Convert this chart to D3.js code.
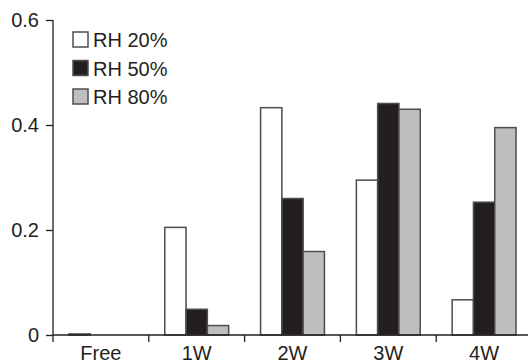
<!DOCTYPE html>
<meta charset="utf-8">
<script src="https://d3js.org/d3.v7.min.js"></script>
<style>
  body { margin: 0; background: #fff; }
  text { font-family: "Liberation Sans", Arial, Helvetica, sans-serif; fill: #231f20; }
</style>
<body>
<div id="chart"></div>
<script>
// categories and series
var categories = ["Free", "1W", "2W", "3W", "4W"];
var series = ["RH 20%", "RH 50%", "RH 80%"];
var rh20 = [0.002, 0.205, 0.433, 0.295, 0.067];
var rh50 = [0, 0.049, 0.260, 0.441, 0.253];
var rh80 = [0, 0.018, 0.159, 0.430, 0.395];
var yTicks = [0, 0.2, 0.4, 0.6];

var values = [rh20, rh50, rh80];
var colors = ["#ffffff", "#231f20", "#bcbec0"];

var width = 528, height = 363;
var margin = { top: 20, left: 53, bottom: 335 };

var svg = d3.select("#chart").append("svg")
    .attr("width", width)
    .attr("height", height);

var x = d3.scaleBand()
    .domain(categories)
    .range([margin.left, 532])
    .padding(0);

var xInner = d3.scaleBand()
    .domain(series)
    .range([x.bandwidth() / 6, x.bandwidth() * 5 / 6]);

var y = d3.scaleLinear()
    .domain([0, 0.6])
    .range([margin.bottom, margin.top]);

// bars
series.forEach(function(s, si) {
  categories.forEach(function(c, ci) {
    var v = values[si][ci];
    if (v <= 0) return;
    svg.append("rect")
      .attr("x", x(c) + xInner(s))
      .attr("y", y(v))
      .attr("width", xInner.bandwidth())
      .attr("height", y(0) - y(v))
      .attr("fill", colors[si])
      .attr("stroke", "#4d4d4f")
      .attr("stroke-width", 1.5);
  });
});

// y axis
var yAxis = svg.append("g")
    .attr("transform", "translate(" + margin.left + ",0)")
    .call(d3.axisLeft(y).tickValues(yTicks).tickFormat(function(d) { return d === 0 ? "0" : d3.format(".1f")(d); })
      .tickSize(7).tickPadding(7));
yAxis.select(".domain").remove();
yAxis.selectAll("line").attr("stroke", "#231f20").attr("stroke-width", 1.3);
yAxis.selectAll("text").style("font-size", "20px").attr("fill", "#231f20");

svg.append("line")
    .attr("x1", margin.left).attr("x2", margin.left)
    .attr("y1", margin.top).attr("y2", margin.bottom + 7)
    .attr("stroke", "#231f20").attr("stroke-width", 1.3);

// x axis
svg.append("line")
    .attr("x1", margin.left).attr("x2", width)
    .attr("y1", y(0)).attr("y2", y(0))
    .attr("stroke", "#231f20").attr("stroke-width", 1.3);

svg.selectAll(".xtick")
  .data(categories.slice(1))
  .enter().append("line")
    .attr("x1", function(d) { return x(d); })
    .attr("x2", function(d) { return x(d); })
    .attr("y1", y(0)).attr("y2", y(0) + 7)
    .attr("stroke", "#231f20").attr("stroke-width", 1.3);

svg.selectAll(".xlabel")
  .data(categories)
  .enter().append("text")
    .attr("x", function(d) { return x(d) + x.bandwidth() / 2; })
    .attr("y", 360)
    .attr("text-anchor", "middle")
    .style("font-size", "20px")
    .text(function(d) { return d; });

// legend
series.forEach(function(s, i) {
  var ly = 32 + i * 28.5;
  svg.append("rect")
    .attr("x", 73).attr("y", ly)
    .attr("width", 15).attr("height", 15)
    .attr("fill", colors[i])
    .attr("stroke", "#4d4d4f").attr("stroke-width", 1.5);
  svg.append("text")
    .attr("x", 93).attr("y", ly + 15)
    .style("font-size", "20px")
    .text(s);
});
</script>
</body>
</html>
